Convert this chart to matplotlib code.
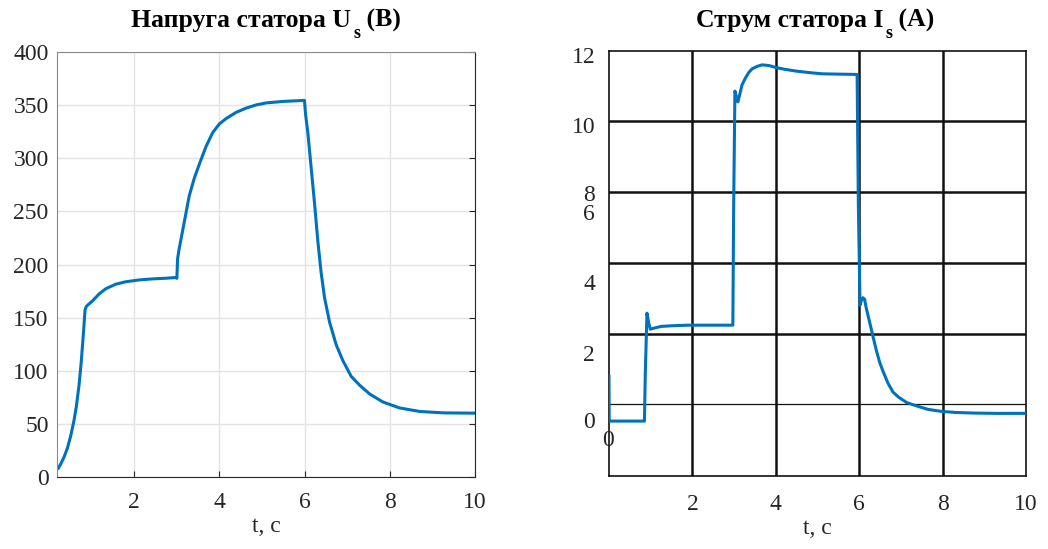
import matplotlib
matplotlib.use('Agg')
import matplotlib.pyplot as plt

plt.rcParams['font.family'] = ['Liberation Serif', 'DejaVu Serif']

# stator voltage U_s (V)
t_u = [0.221, 0.276, 0.355, 0.433, 0.511, 0.590, 0.645, 0.707, 0.754, 0.786, 0.817, 0.848,
       0.880, 0.927, 1.021, 1.177, 1.334, 1.569, 1.804, 2.118, 2.431, 2.745, 2.980, 3.003,
       3.019, 3.058, 3.137, 3.215, 3.293, 3.411, 3.529, 3.685, 3.842, 3.999, 4.156, 4.391,
       4.626, 4.861, 5.096, 5.488, 5.997, 6.021, 6.076, 6.154, 6.232, 6.311, 6.389, 6.467,
       6.585, 6.742, 6.898, 7.094, 7.290, 7.525, 7.839, 8.231, 8.701, 9.250, 10.0]
u_s = [8.3, 12.2, 18.8, 27.1, 38.6, 53.5, 66.7, 86.5, 106.3, 122.8, 139.3, 157.4,
       160.7, 162.4, 165.7, 172.3, 177.2, 181.5, 183.8, 185.5, 186.5, 187.1, 187.8, 187.0,
       205.3, 215.2, 231.7, 248.2, 264.7, 281.2, 294.4, 310.9, 324.1, 332.3, 337.3, 343.2,
       347.2, 350.2, 352.1, 353.5, 354.5, 342.0, 324.1, 291.1, 258.1, 221.8, 192.1, 169.0,
       145.9, 124.4, 109.6, 94.7, 86.5, 78.2, 70.6, 65.0, 61.7, 60.4, 60.1]

# stator current I_s (A)
t_i = [0, 0.005, 0.02, 0.85, 0.87, 0.91, 0.95, 0.99, 1.1, 1.25, 1.5, 1.9, 2.5, 2.97, 2.99,
       3.02, 3.06, 3.09, 3.12, 3.19, 3.27, 3.35, 3.43, 3.55, 3.67, 3.83, 3.99, 4.2, 4.48, 4.8,
       5.12, 5.5, 5.95, 5.98, 6.02, 6.05, 6.09, 6.13, 6.17, 6.25, 6.33, 6.41, 6.49, 6.57,
       6.69, 6.81, 6.94, 7.14, 7.38, 7.65, 7.94, 8.3, 8.75, 9.3, 10]
i_s = [1.45, 0.03, 0, 0, 1.5, 3.5, 3.2, 2.98, 3.02, 3.07, 3.09, 3.11, 3.11, 3.11, 7.0,
       10.7, 10.5, 10.35, 10.5, 10.9, 11.12, 11.3, 11.42, 11.5, 11.55, 11.53, 11.47, 11.41, 11.35, 11.3,
       11.26, 11.25, 11.24, 7.0, 3.76, 3.9, 4.0, 3.95, 3.66, 3.21, 2.75, 2.3, 1.91, 1.62,
       1.23, 0.94, 0.78, 0.6, 0.49, 0.38, 0.32, 0.28, 0.26, 0.25, 0.25]

x_ticks = [2, 4, 6, 8, 10]
u_ticks = [0, 50, 100, 150, 200, 250, 300, 350, 400]
i_tick_labels = ['12', '10', '8', '6', '4', '2', '0']

blue = '#0072BD'
txt = '#262626'
fs = 17
W, H = 1048, 549

fig = plt.figure(figsize=(W / 100, H / 100), dpi=100)
renderer = fig.canvas.get_renderer()


def title_with_sub(cx, main, sub, tail, y_base=27, drop=11):
    # bold title with a lowered subscript, centred on pixel column cx
    kw = dict(fontweight='bold', va='baseline', ha='left', color='black')
    parts = [(main, 18.5, 0), (sub, 13, drop), (tail, 18.5, 0)]
    objs, widths = [], []
    for s, size, d in parts:
        o = fig.text(0, 0, s, fontsize=size, **kw)
        widths.append(o.get_window_extent(renderer).width)
        objs.append((o, d))
    gaps = [0, 2, 0]
    total = sum(widths) + sum(gaps)
    x = cx - total / 2
    for (o, d), w, g in zip(objs, widths, gaps):
        x += g
        o.set_position((x / W, 1 - (y_base + d) / H))
        x += w


# ---- left: voltage
ax1 = fig.add_axes([0.0544, 0.1311, 0.3989, 0.7741])
ax1.plot(t_u, u_s, color=blue, lw=2.2)
ax1.set_xlim(0.19, 10)
ax1.set_ylim(0, 400)
ax1.set_xticks(x_ticks)
ax1.set_yticks(u_ticks)
ax1.grid(True, color='#e3e3e3', lw=1)
ax1.set_axisbelow(True)
ax1.tick_params(direction='in', length=4, right=True, top=False, labelsize=fs,
                colors=txt, pad=6)
ax1.tick_params(axis='x', pad=11)
ax1.tick_params(axis='y', left=False)
for s in ['left', 'top']:
    ax1.spines[s].set_color('#8a8a8a')
for s in ['right', 'bottom']:
    ax1.spines[s].set_color(txt)
ax1.set_xlabel('t, c', fontsize=fs, color=txt, labelpad=2)
title_with_sub(266, 'Напруга статора U', 's', ' (В)')

# ---- right: current (grid / labels drawn as in the source picture)
ax2 = fig.add_axes([0.5811, 0.1330, 0.3979, 0.7741])
ax2.plot(t_i, i_s, color=blue, lw=2.2, zorder=3)
ax2.set_xlim(0, 10)
ax2.set_ylim(-1.78, 12)
ax2.set_xticks(x_ticks)
ax2.set_yticks([11.87, 9.6, 7.4, 6.78, 4.51, 2.21, 0.03])
ax2.set_yticklabels(i_tick_labels)
ax2.tick_params(length=0, labelsize=fs, colors=txt, pad=10)
ax2.tick_params(axis='x', pad=13)
for x in [2, 4, 6, 8]:
    ax2.axvline(x, color='#111111', lw=1.8, zorder=1)
for y in [9.73, 7.43, 5.13, 2.82]:
    ax2.axhline(y, color='#111111', lw=1.8, zorder=1)
ax2.axhline(0.55, color='#111111', lw=0.9, zorder=1)
for s in ax2.spines.values():
    s.set_color('#111111')
    s.set_linewidth(1.2)
ax2.text(-0.03, -0.62, '0', fontsize=fs, color=txt, ha='center', va='center', clip_on=False)
ax2.set_xlabel('t, c', fontsize=fs, color=txt, labelpad=2)
title_with_sub(815, 'Струм статора I', 's', ' (А)')

plt.savefig('out.png', dpi=100)
